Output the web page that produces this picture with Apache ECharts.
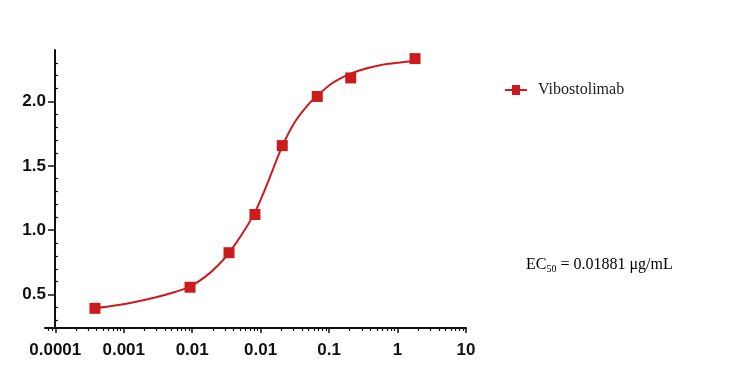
<!DOCTYPE html>
<html>
<head>
<meta charset="utf-8">
<script src="https://cdn.jsdelivr.net/npm/echarts@6/dist/echarts.min.js"></script>
<style>
html,body{margin:0;padding:0;background:#fff;}
#chart{width:730px;height:389px;}
</style>
</head>
<body>
<div id="chart"></div>
<script>
// ---- data ----
const seriesName = "Vibostolimab";
// measured points (concentration, µg/mL ; response)
const pointConc = [0.000038, 0.00093, 0.00345, 0.00826, 0.0207, 0.0672, 0.207, 1.80];
const pointResp = [0.393, 0.557, 0.825, 1.122, 1.657, 2.039, 2.183, 2.333];
// fitted curve
const curveConc = [0.000038, 0.0000746, 0.000146, 0.000286, 0.000561, 0.000929, 0.00154, 0.00238, 0.00345, 0.00534, 0.00827, 0.0128, 0.0205, 0.0318, 0.0492, 0.0665, 0.103, 0.171, 0.283, 0.554, 1.085, 1.797];
const curveResp = [0.393, 0.414, 0.442, 0.477, 0.520, 0.562, 0.637, 0.726, 0.824, 0.968, 1.140, 1.374, 1.647, 1.842, 1.974, 2.041, 2.130, 2.197, 2.243, 2.282, 2.303, 2.314];
// axis ticks
const xTickValues = [1e-5, 1e-4, 1e-3, 1e-2, 1e-1, 1, 10];
const xTickLabels = ["0.0001", "0.001", "0.01", "0.01", "0.1", "1", "10"];
const yTickValues = [0.5, 1.0, 1.5, 2.0];
const yTickLabels = ["0.5", "1.0", "1.5", "2.0"];
const yMinorValues = [0.3, 0.4, 0.6, 0.7, 0.8, 0.9, 1.1, 1.2, 1.3, 1.4, 1.6, 1.7, 1.8, 1.9, 2.1, 2.2, 2.3];
const ec50Text = "0.01881 μg/mL";

// ---- build ----
const xMinorValues = [];
for (let e = -6; e <= 0; e++) {
  for (let k = 2; k <= 9; k++) xMinorValues.push(k * Math.pow(10, e));
}
const xMin = Math.pow(10, -5.15), xMax = 10;
const red = '#cc1b1d';
const axisColor = '#111';

function xLabel(v) {
  for (let i = 0; i < xTickValues.length; i++) {
    if (Math.abs(Math.log10(v) - Math.log10(xTickValues[i])) < 1e-6) return xTickLabels[i];
  }
  return '';
}
function yLabel(v) {
  for (let i = 0; i < yTickValues.length; i++) {
    if (Math.abs(v - yTickValues[i]) < 1e-6) return yTickLabels[i];
  }
  return '';
}

const chart = echarts.init(document.getElementById('chart'), null, {renderer: 'canvas'});
const option = {
  animation: false,
  backgroundColor: '#fff',
  grid: {left: 45, right: 264, top: 50, bottom: 61, containLabel: false},
  legend: {
    data: [{name: seriesName, icon: 'path://M0,4H7V0H15V4H22V6H15V10H7V6H0Z', itemStyle: {color: red, opacity: 1}}],
    left: 500, top: 77,
    itemWidth: 22, itemHeight: 10,
    textStyle: {fontFamily: 'Liberation Serif', fontSize: 16, color: '#222', padding: [0, 0, 0, 6]}
  },
  xAxis: [{
    type: 'log', logBase: 10, min: xMin, max: xMax, position: 'bottom',
    axisLine: {lineStyle: {color: axisColor, width: 2}},
    axisTick: {show: true, inside: false, length: 5, lineStyle: {color: axisColor, width: 1.5}, customValues: xTickValues},
    axisLabel: {customValues: xTickValues, formatter: xLabel, margin: 14,
      fontFamily: 'Liberation Sans', fontWeight: 'bold', fontSize: 17, color: axisColor},
    splitLine: {show: false}, minorTick: {show: false}
  }, {
    type: 'log', logBase: 10, min: xMin, max: xMax, position: 'bottom',
    axisLine: {show: false},
    axisTick: {show: true, inside: false, length: 3, lineStyle: {color: axisColor, width: 1.2}, customValues: xMinorValues},
    axisLabel: {show: false}, splitLine: {show: false}
  }],
  yAxis: [{
    type: 'value', min: 0.24, max: 2.4, position: 'left', offset: -10,
    axisLine: {show: true, lineStyle: {color: axisColor, width: 2}},
    axisTick: {show: true, inside: false, length: 7, lineStyle: {color: axisColor, width: 1.5}, customValues: yTickValues},
    axisLabel: {customValues: yTickValues, formatter: yLabel, margin: 9,
      fontFamily: 'Liberation Sans', fontWeight: 'bold', fontSize: 17, color: axisColor},
    splitLine: {show: false}
  }, {
    type: 'value', min: 0.24, max: 2.4, position: 'left', offset: -10,
    axisLine: {show: false},
    axisTick: {show: true, inside: true, length: 3, lineStyle: {color: axisColor, width: 1.2}, customValues: yMinorValues},
    axisLabel: {show: false}, splitLine: {show: false}
  }],
  series: [{
    name: 'fit', type: 'line', xAxisIndex: 0, yAxisIndex: 0,
    data: curveConc.map((c, i) => [c, curveResp[i]]),
    smooth: 0.3, showSymbol: false, symbol: 'none',
    lineStyle: {color: red, width: 2}, z: 2, silent: true
  }, {
    name: seriesName, type: 'scatter', xAxisIndex: 0, yAxisIndex: 0,
    data: pointConc.map((c, i) => [c, pointResp[i]]),
    symbol: 'rect', symbolSize: 11,
    itemStyle: {color: red, opacity: 1}, z: 3
  }],
  graphic: [{
    type: 'text', left: 526, top: 257,
    style: {
      text: '{a|EC}{s|50}{a| = ' + ec50Text + '}',
      rich: {
        a: {fontFamily: 'Liberation Serif', fontSize: 16, color: '#222', lineHeight: 18},
        s: {fontFamily: 'Liberation Serif', fontSize: 10, color: '#222', lineHeight: 10, verticalAlign: 'bottom'}
      }
    }
  }]
};
chart.setOption(option);
</script>
</body>
</html>
